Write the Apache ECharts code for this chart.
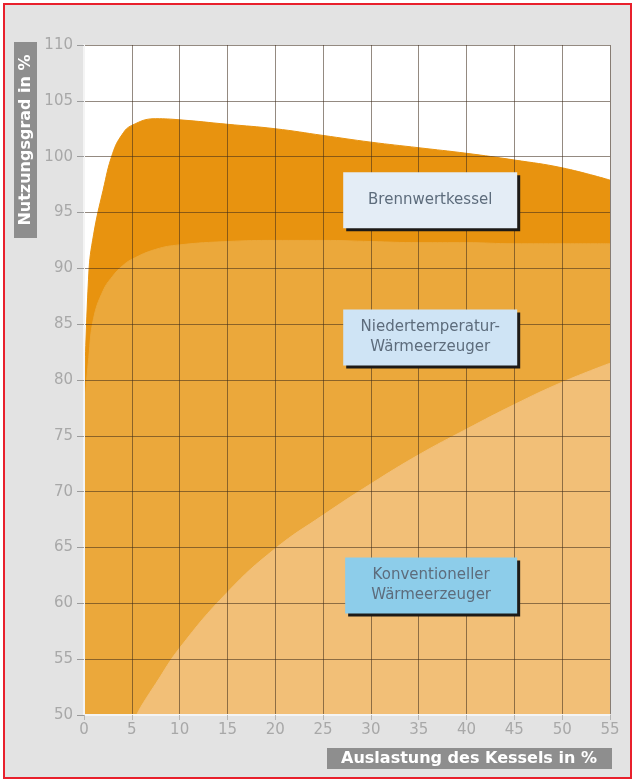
<!DOCTYPE html>
<html>
<head>
<meta charset="utf-8">
<script src="https://cdn.jsdelivr.net/npm/echarts@6/dist/echarts.min.js"></script>
<style>
  html, body { margin: 0; padding: 0; background: #ffffff; }
  #chart { width: 633px; height: 781px; }
</style>
</head>
<body>
<div id="chart"></div>
<script>
// Nutzungsgrad (%) über der Kesselauslastung (%)
const brennwertLoad = [0, 0.5, 1, 2, 3, 4, 5, 7.5, 10, 15, 20, 25, 30, 35, 40, 45, 50, 55];
const brennwertEff  = [77, 89.5, 93, 97, 100.3, 102, 102.8, 103.4, 103.3, 102.9, 102.5, 101.9, 101.3, 100.8, 100.3, 99.7, 99.0, 97.9];

const niederLoad = [0, 0.5, 1, 2, 3, 4, 5, 7.5, 10, 15, 20, 25, 30, 35, 40, 45, 50, 55];
const niederEff  = [77, 82, 85.5, 88, 89.3, 90.2, 90.8, 91.7, 92.1, 92.4, 92.5, 92.5, 92.4, 92.3, 92.3, 92.2, 92.2, 92.2];

const konvLoad = [5.5, 6, 7.5, 10, 15, 20, 25, 30, 35, 40, 45, 50, 55];
const konvEff  = [50, 50.8, 52.8, 56, 61, 64.9, 67.9, 70.7, 73.3, 75.6, 77.8, 79.8, 81.5];

const xTicks = [0, 5, 10, 15, 20, 25, 30, 35, 40, 45, 50, 55];
const yTicks = [50, 55, 60, 65, 70, 75, 80, 85, 90, 95, 100, 105, 110];

const seriesNames = ['Brennwertkessel', 'Niedertemperatur-\nWärmeerzeuger', 'Konventioneller\nWärmeerzeuger'];
const yAxisTitle = 'Nutzungsgrad in %';
const xAxisTitle = 'Auslastung des Kessels in %';

const pairs = (xs, ys) => xs.map((x, i) => [x, ys[i]]);

const chart = echarts.init(document.getElementById('chart'), null, { renderer: 'canvas' });

const fills = ['#e8930f', '#eba83b', '#f2bf77'];
const boxFills = ['#e4edf6', '#cfe4f5', '#8dcdea'];

function areaSeries(name, data, color) {
  return {
    name: name,
    type: 'line',
    data: data,
    smooth: 0.45,
    showSymbol: false,
    symbol: 'none',
    lineStyle: { color: color, width: 1 },
    areaStyle: { color: color, opacity: 1, origin: 'start' },
    z: 2,
    silent: true
  };
}

const gridLine = { show: true, lineStyle: { color: 'rgba(60,42,25,0.55)', width: 1 } };
const tickFont = { color: '#a8a8a8', fontSize: 15, fontFamily: 'DejaVu Sans' };

chart.setOption({
  backgroundColor: '#ffffff',
  animation: false,
  grid: { left: 84, right: 23, top: 45, bottom: 66, show: true, backgroundColor: '#ffffff', borderWidth: 0 },
  xAxis: {
    type: 'value', min: 0, max: 55, interval: 5, z: 5,
    axisLine: { show: true, lineStyle: { color: '#f4f4f4', width: 2 } },
    axisTick: { show: true, length: 5, lineStyle: { color: '#b5b5b5' } },
    axisLabel: Object.assign({ margin: 8, formatter: v => xTicks.includes(v) ? String(v) : '' }, tickFont),
    splitLine: gridLine
  },
  yAxis: {
    type: 'value', min: 50, max: 110, interval: 5, z: 5,
    axisLine: { show: true, lineStyle: { color: '#f4f4f4', width: 2 } },
    axisTick: { show: true, length: 7, lineStyle: { color: '#9a9a9a' } },
    axisLabel: Object.assign({ margin: 11, formatter: v => yTicks.includes(v) ? String(v) : '' }, tickFont),
    splitLine: gridLine
  },
  series: [
    areaSeries(seriesNames[0], pairs(brennwertLoad, brennwertEff), fills[0]),
    areaSeries(seriesNames[1], pairs(niederLoad, niederEff), fills[1]),
    areaSeries(seriesNames[2], pairs(konvLoad, konvEff), fills[2])
  ]
});

// label boxes anchored in data coordinates
const boxAnchors = [[36.2, 96.1], [36.2, 83.8], [36.3, 61.6]];
const boxSizes = [[174, 56], [174, 56], [172, 56]];

function labelBox(i) {
  const c = chart.convertToPixel({ xAxisIndex: 0, yAxisIndex: 0 }, boxAnchors[i]);
  const w = boxSizes[i][0], h = boxSizes[i][1];
  return {
    type: 'group',
    x: c[0] - w / 2,
    y: c[1] - h / 2,
    z: 20,
    children: [
      { type: 'rect', z: 20, shape: { x: 3, y: 3, width: w, height: h }, style: { fill: '#1d1a17' } },
      { type: 'rect', z: 21, shape: { x: 0, y: 0, width: w, height: h }, style: { fill: boxFills[i] } },
      {
        type: 'text', z: 22, x: w / 2, y: h / 2,
        style: {
          text: seriesNames[i], fill: '#5d6c7c', font: '15px "DejaVu Sans"',
          align: 'center', verticalAlign: 'middle', lineHeight: 20
        }
      }
    ]
  };
}

chart.setOption({
  graphic: [
    // light grey panel inside the red frame
    { type: 'rect', z: -10, shape: { x: 4, y: 4, width: 627, height: 774 }, style: { fill: '#e3e3e3' } },
    { type: 'rect', z: -9, shape: { x: 84, y: 45, width: 526, height: 670 }, style: { fill: '#ffffff' } },
    { type: 'rect', z: 30, shape: { x: 4, y: 4, width: 627, height: 774 }, style: { fill: 'none', stroke: '#e8202c', lineWidth: 2 } },
    labelBox(0), labelBox(1), labelBox(2),
    // y-axis title box
    {
      type: 'group', x: 14, y: 42, z: 20,
      children: [
        { type: 'rect', shape: { x: 0, y: 0, width: 23, height: 196 }, style: { fill: '#8e8e8e' } },
        {
          type: 'text', x: 12, y: 98, rotation: Math.PI / 2,
          style: { text: yAxisTitle, fill: '#ffffff', font: 'bold 16px "DejaVu Sans"', align: 'center', verticalAlign: 'middle' }
        }
      ]
    },
    // x-axis title box
    {
      type: 'group', x: 327, y: 748, z: 20,
      children: [
        { type: 'rect', shape: { x: 0, y: 0, width: 285, height: 21 }, style: { fill: '#8e8e8e' } },
        {
          type: 'text', x: 142, y: 11,
          style: { text: xAxisTitle, fill: '#ffffff', font: 'bold 16px "DejaVu Sans"', align: 'center', verticalAlign: 'middle' }
        }
      ]
    }
  ]
});
</script>
</body>
</html>
